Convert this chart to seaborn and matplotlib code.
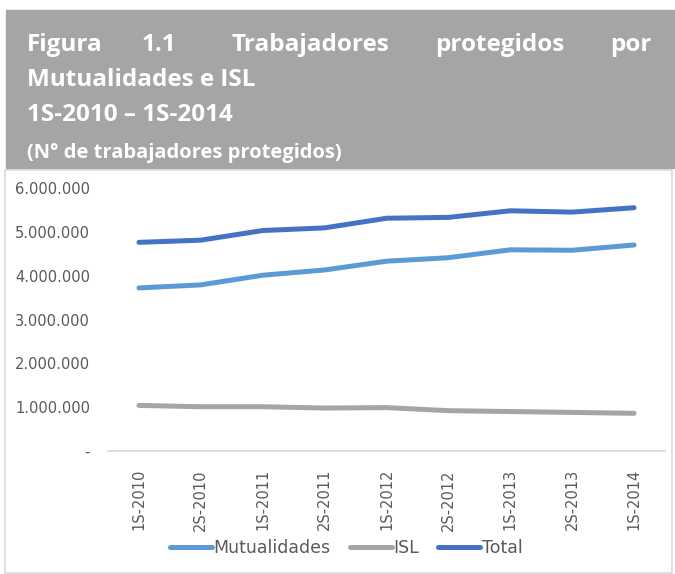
import seaborn as sns
import matplotlib.pyplot as plt
import matplotlib.patches as patches
import matplotlib.ticker as mticker
import pandas as pd

# Data
periodos = ["1S-2010", "2S-2010", "1S-2011", "2S-2011", "1S-2012",
            "2S-2012", "1S-2013", "2S-2013", "1S-2014"]
mutualidades = [3720000, 3790000, 4010000, 4130000, 4330000,
                4410000, 4590000, 4580000, 4700000]
isl = [1040000, 1010000, 1010000, 980000, 990000,
       920000, 900000, 880000, 860000]
total = [4760000, 4810000, 5030000, 5090000, 5310000,
         5330000, 5480000, 5450000, 5550000]
series = ["Mutualidades", "ISL", "Total"]
colores = ["#5B9BD5", "#A5A5A5", "#4472C4"]

df = pd.DataFrame({
    "Periodo": periodos * 3,
    "Serie": [s for s in series for _ in periodos],
    "Trabajadores": mutualidades + isl + total,
})

sns.set_theme(style="white")
plt.rcParams["font.family"] = ["DejaVu Sans"]

W, H = 675, 574
fig = plt.figure(figsize=(W / 100, H / 100), dpi=100)

# gray title box
box = patches.Rectangle((6 / W, 1 - 168 / H), 669 / W, 158 / H,
                        transform=fig.transFigure, color="#A5A5A5", zorder=0)
fig.patches.append(box)

# chart frame
frame = patches.Rectangle((5 / W, 1 / H), 667 / W, (H - 171) / H,
                          transform=fig.transFigure, fill=False,
                          edgecolor="#D9D9D9", linewidth=1.2, zorder=0)
fig.patches.append(frame)

# title, first line justified word by word
tfont = dict(color="white", fontweight="bold", fontsize=17.5,
             family="Open Sans", va="center", ha="left")
for palabra, xp in [("Figura", 27), ("1.1", 142), ("Trabajadores", 232),
                    ("protegidos", 435), ("por", 610)]:
    fig.text(xp / W, 1 - 45 / H, palabra, **tfont)
fig.text(27 / W, 1 - 80 / H, "Mutualidades e ISL", **tfont)
fig.text(27 / W, 1 - 115 / H, "1S-2010 \u2013 1S-2014", **tfont)
sub = fig.text(27 / W, 1 - 153 / H, "(N\u00b0 de trabajadores protegidos)",
               color="white", fontweight="bold", fontsize=14.5,
               family="Open Sans", va="center", ha="left")
sub.set_clip_path(box)

# line chart
ax = fig.add_axes([108 / W, 1 - 451 / H, 557 / W, 263 / H])
sns.lineplot(data=df, x="Periodo", y="Trabajadores", hue="Serie",
             palette=colores, linewidth=3.6, sort=False, legend=False,
             solid_capstyle="round", ax=ax)

ax.set_xlim(-0.5, len(periodos) - 0.5)
ax.set_ylim(0, 6000000)
ax.yaxis.set_major_locator(mticker.MultipleLocator(1000000))
ax.yaxis.set_major_formatter(mticker.FuncFormatter(
    lambda v, p: "-" if v == 0 else f"{int(v):,}".replace(",", ".")))
ax.set_xlabel("")
ax.set_ylabel("")
for s in ["top", "right", "left"]:
    ax.spines[s].set_visible(False)
ax.spines["bottom"].set_color("#D9D9D9")
ax.tick_params(axis="y", length=0, pad=13, labelsize=10.5, labelcolor="#595959")
ax.tick_params(axis="x", length=0, pad=13, labelsize=10.5, labelcolor="#595959",
               rotation=90)
ax.patch.set_alpha(0)

handles = [plt.Line2D([0], [0], color=c, linewidth=3.6, solid_capstyle="round")
           for c in colores]
fig.legend(handles, series, loc="center", bbox_to_anchor=(0.513, 1 - 548 / H),
           ncol=3, frameon=False, fontsize=12.5, labelcolor="#595959",
           handlelength=2.4, handletextpad=0.1, columnspacing=1.1)

fig.savefig("out.png", dpi=100)
